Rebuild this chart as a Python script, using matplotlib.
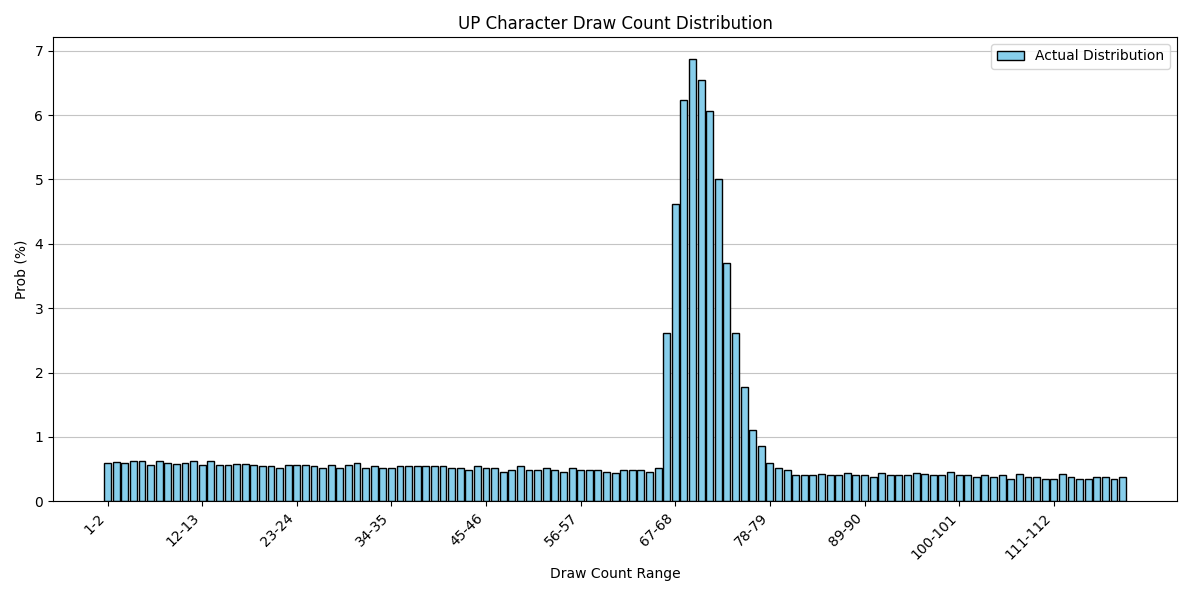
import numpy as np
import matplotlib
matplotlib.use("Agg")
import matplotlib.pyplot as plt

# probability (%) per draw-count bin
prob = [
    0.59, 0.61, 0.60, 0.63, 0.63, 0.57, 0.62, 0.60, 0.585, 0.60,
    0.63, 0.57, 0.62, 0.57, 0.57, 0.585, 0.585, 0.57, 0.555, 0.54,
    0.52, 0.57, 0.57, 0.57, 0.54, 0.51, 0.57, 0.52, 0.57, 0.59,
    0.52, 0.54, 0.52, 0.51, 0.54, 0.555, 0.555, 0.54, 0.54, 0.54,
    0.52, 0.51, 0.48, 0.555, 0.51, 0.52, 0.46, 0.48, 0.555, 0.49,
    0.49, 0.52, 0.49, 0.46, 0.51, 0.49, 0.49, 0.48, 0.46, 0.445,
    0.48, 0.49, 0.48, 0.46, 0.51, 2.62, 4.62, 6.24, 6.87, 6.55,
    6.07, 5.00, 3.70, 2.61, 1.77, 1.11, 0.86, 0.60, 0.51, 0.48,
    0.40, 0.40, 0.40, 0.43, 0.41, 0.40, 0.445, 0.40, 0.41, 0.38,
    0.445, 0.41, 0.40, 0.41, 0.445, 0.43, 0.41, 0.40, 0.46, 0.40,
    0.41, 0.38, 0.41, 0.37, 0.40, 0.34, 0.43, 0.37, 0.37, 0.35,
    0.35, 0.43, 0.37, 0.34, 0.35, 0.38, 0.38, 0.35, 0.37,
]
labels = [f"{i + 1}-{i + 2}" for i in range(len(prob))]

fig, ax = plt.subplots(figsize=(11.92, 5.96), dpi=100)
x = np.arange(len(prob))
ax.bar(x, prob, width=0.8, color="skyblue", edgecolor="black", label="Actual Distribution")
ax.set_xticks(x[::11])
ax.set_xticklabels(labels[::11], rotation=45, ha="right")
ax.set_title("UP Character Draw Count Distribution")
ax.set_xlabel("Draw Count Range")
ax.set_ylabel("Prob (%)")
ax.grid(axis="y", alpha=0.75)
ax.set_axisbelow(True)
ax.legend(loc="upper right")
plt.subplots_adjust(left=0.0445, right=0.9875, top=0.938, bottom=0.159)
plt.savefig("out.png", dpi=100)
